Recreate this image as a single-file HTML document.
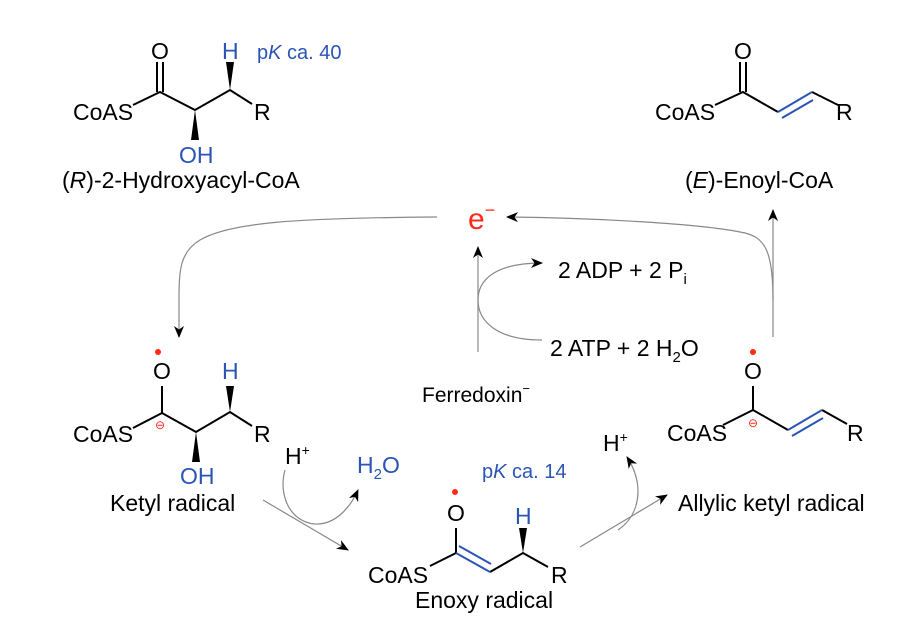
<!DOCTYPE html>
<html><head><meta charset="utf-8"><style>
html,body{margin:0;padding:0;background:#fff;}
svg{display:block;}
text{font-family:"Liberation Sans",sans-serif;}
</style></head><body>
<svg width="905" height="629" viewBox="0 0 905 629" xmlns="http://www.w3.org/2000/svg">
<defs>
<marker id="ah" markerWidth="12" markerHeight="12" refX="11" refY="6" orient="auto" markerUnits="userSpaceOnUse">
<path d="M0,1 L12,6 L0,11 L3.5,6 Z" fill="#000"/>
</marker>
</defs>
<g fill="none" stroke="#000" stroke-width="2">
<path d="M133,105 L160,92 L195,110 L230,90 L252,104"/>
<path d="M157,92 V62 M163,92 V62"/>
<path d="M133,428 L162,413 L196,432 L230,412 L252,426"/>
<path d="M162,413 V386"/>
<path d="M430,566 L456,553"/>
<path d="M456,553 V528"/>
<path d="M490,572 L523,553 L548,567"/>
<path d="M715,105 L743,92 L778,112 M812,92 L840,106"/>
<path d="M740,92 V62 M746,92 V62"/>
<path d="M723,425 L753,410 L788,430 M822,410 L847,424"/>
<path d="M753,410 V386"/>
</g>
<g fill="none" stroke="#2a55b5" stroke-width="2">
<path d="M456,553 L490,572 M459,546 L491,564"/>
<path d="M778,112 L812,92 M782,118 L813,100"/>
<path d="M788,430 L822,410 M792,436 L823,418"/>
</g>
<g fill="#000">
<polygon points="195,110 191,140 199,140"/>
<polygon points="230,90 226,62 234,62"/>
<polygon points="196,432 192,462 200,462"/>
<polygon points="230,412 226,386 234,386"/>
<polygon points="523,553 519,528 527,528"/>
</g>
<g fill="none" stroke="#888" stroke-width="1.2">
<path d="M437,217 C300,218 230,222 200,240 C180,252 179,270 179,300 L179,337" marker-end="url(#ah)"/>
<path d="M773,337 L773,210" marker-end="url(#ah)"/>
<path d="M773,300 C773,250 765,236 740,232 C700,224 600,218 507,217" marker-end="url(#ah)"/>
<path d="M478,352 L478,247" marker-end="url(#ah)"/>
<path d="M542,340 C495,340 478,320 478,300 C478,280 495,263 542,263" marker-end="url(#ah)"/>
<path d="M285,470 C278,495 290,522 315,524 C335,525 350,508 358,490" marker-end="url(#ah)"/>
<path d="M263,500 L348,550" marker-end="url(#ah)"/>
<path d="M580,547 L667,495" marker-end="url(#ah)"/>
<path d="M618,530 C640,515 645,485 627,457" marker-end="url(#ah)"/>
</g>
<g fill="#ff2a1a">
<circle cx="158" cy="352" r="3"/>
<circle cx="455" cy="492" r="3"/>
<circle cx="753" cy="352" r="3"/>
</g>
<g font-size="23" fill="#000">
<text x="73" y="120">CoAS</text>
<text x="151" y="59">O</text>
<text x="254" y="120">R</text>
<text x="62" y="188">(<tspan font-style="italic">R</tspan>)-2-Hydroxyacyl-CoA</text>
<text x="73" y="442">CoAS</text>
<text x="153" y="379">O</text>
<text x="254" y="442">R</text>
<text x="110" y="511">Ketyl radical</text>
<text x="368" y="583">CoAS</text>
<text x="447" y="521">O</text>
<text x="551" y="583">R</text>
<text x="415" y="608">Enoxy radical</text>
<text x="655" y="120">CoAS</text>
<text x="734" y="59">O</text>
<text x="836" y="120">R</text>
<text x="685" y="188">(<tspan font-style="italic">E</tspan>)-Enoyl-CoA</text>
<text x="667" y="441">CoAS</text>
<text x="744" y="379">O</text>
<text x="847" y="441">R</text>
<text x="678" y="511">Allylic ketyl radical</text>
<text x="558" y="278">2 ADP + 2 P<tspan font-size="15" dy="6">i</tspan></text>
<text x="550" y="356">2 ATP + 2 H<tspan font-size="15" dy="6">2</tspan><tspan dy="-6">O</tspan></text>
<text x="285" y="464">H<tspan font-size="14" dy="-9">+</tspan></text>
<text x="603" y="451">H<tspan font-size="14" dy="-9">+</tspan></text>
</g>
<text x="422" y="402" font-size="21">Ferredoxin<tspan font-size="13" dy="-9">−</tspan></text>
<g fill="#2a55b5">
<text x="222" y="59" font-size="23">H</text>
<text x="257" y="59" font-size="20">p<tspan font-style="italic">K</tspan> ca. 40</text>
<text x="179" y="163" font-size="23">OH</text>
<text x="222" y="379" font-size="23">H</text>
<text x="180" y="484" font-size="23">OH</text>
<text x="515" y="524" font-size="23">H</text>
<text x="482" y="478" font-size="20">p<tspan font-style="italic">K</tspan> ca. 14</text>
<text x="357" y="473" font-size="23">H<tspan font-size="15" dy="6">2</tspan><tspan dy="-6">O</tspan></text>
</g>
<g fill="#ff2a1a">
<text x="468" y="229" font-size="30">e<tspan font-size="18" dy="-13">−</tspan></text>
<text x="155" y="429" font-size="12">⊖</text>
<text x="748" y="427" font-size="12">⊖</text>
</g>
</svg>
</body></html>
